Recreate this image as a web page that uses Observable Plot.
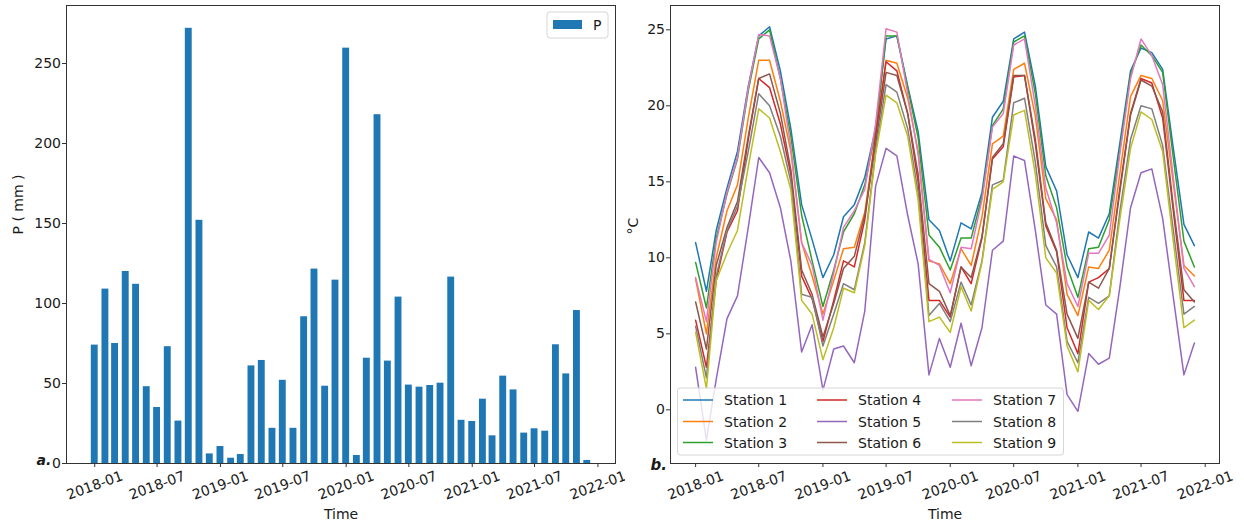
<!DOCTYPE html>
<html><head><meta charset="utf-8">
<script src="https://cdn.jsdelivr.net/npm/d3@7"></script>
<script src="https://cdn.jsdelivr.net/npm/@observablehq/plot@0.6"></script>
<style>
body{margin:0;background:#fff;}
#wrap{position:relative;width:1244px;height:527px;font-family:"DejaVu Sans",sans-serif;background:#fff;}
#left{position:absolute;left:0;top:0;}
#right{position:absolute;left:625px;top:0;}
</style></head><body><div id="wrap"><div id="left"></div><div id="right"></div></div>
<script>
const months = ["2018-01","2018-02","2018-03","2018-04","2018-05","2018-06","2018-07","2018-08","2018-09","2018-10","2018-11","2018-12",
"2019-01","2019-02","2019-03","2019-04","2019-05","2019-06","2019-07","2019-08","2019-09","2019-10","2019-11","2019-12",
"2020-01","2020-02","2020-03","2020-04","2020-05","2020-06","2020-07","2020-08","2020-09","2020-10","2020-11","2020-12",
"2021-01","2021-02","2021-03","2021-04","2021-05","2021-06","2021-07","2021-08","2021-09","2021-10","2021-11","2021-12"];
const precip = [74,109,75,120,112,48,35,73,26.5,272,152,6,
10.6,3.3,5.6,61,64.4,22,52,22,91.7,121.5,48.3,114.6,
259.6,5,65.8,218,64,104,49,47.7,48.75,50.2,116.5,27,
26.25,40.2,17.3,54.6,46,19,21.7,20.2,74.2,56,95.6,1.9];
const station1 = [11.0,7.8,11.8,14.6,17.0,21.3,24.6,25.2,22.3,18.5,13.5,11.2,
8.7,10.2,12.7,13.5,15.3,18.5,24.4,24.6,21.3,18.3,12.5,11.8,
9.8,12.3,11.9,14.3,19.25,20.3,24.4,24.85,21.3,16.0,14.4,10.2,
8.7,11.7,11.3,12.9,17.5,22.3,23.8,23.5,22.4,17.3,12.2,10.8];
const station2 = [8.6,5.0,10.0,13.1,14.8,19.2,23.0,23.0,20.3,17.0,11.0,8.8,
6.3,8.5,10.6,10.7,13.0,18.0,23.0,22.8,20.5,17.0,9.8,9.6,
8.3,10.6,9.5,12.7,17.5,18.0,22.4,22.8,19.3,13.9,12.5,7.6,
6.2,9.4,9.3,10.5,15.5,20.6,22.0,21.8,20.35,15.0,9.5,8.8];
const station3 = [9.7,6.7,11.3,14.2,16.5,21.0,24.4,25.0,21.8,18.0,12.8,9.8,
6.8,9.2,11.7,12.9,14.8,18.3,24.6,24.6,21.2,17.9,11.5,10.7,
9.2,11.3,11.3,14.0,18.7,19.8,24.2,24.6,20.8,15.4,13.3,9.4,
7.4,10.6,10.7,12.5,17.0,22.1,24.0,23.3,22.2,16.7,11.1,9.4];
const station4 = [5.9,2.8,8.5,11.7,13.1,17.8,21.8,21.2,18.8,15.5,8.8,7.3,
4.5,7.2,9.8,9.4,12.5,18.0,22.9,22.3,19.5,15.0,7.2,7.2,
6.1,9.4,8.3,11.3,16.5,17.3,21.9,22.0,17.5,12.1,10.4,5.4,
3.7,8.4,8.7,9.3,14.5,19.5,21.8,21.5,19.2,13.2,7.2,7.2];
const station5 = [2.8,-2.0,2.0,6.0,7.5,12.0,16.6,15.6,13.3,9.8,3.8,5.6,
1.3,4.0,4.2,3.1,6.5,14.7,17.2,16.7,12.8,9.6,2.3,4.7,
2.8,5.7,2.9,5.4,10.5,11.1,16.7,16.4,11.8,6.9,6.3,1.0,
-0.1,3.7,3.0,3.4,8.0,13.3,15.6,15.85,12.6,7.5,2.3,4.4];
const station6 = [7.1,4.0,9.5,12.0,13.7,18.0,21.8,22.1,19.5,15.8,9.2,7.6,
4.8,7.0,9.3,10.1,12.8,17.5,22.2,22.0,19.5,15.5,8.3,7.8,
6.2,9.4,8.7,11.4,16.6,17.5,22.0,22.0,17.8,12.3,10.5,6.3,
4.7,8.4,8.0,9.3,14.3,19.4,21.7,21.3,19.6,13.5,7.9,7.1];
const station7 = [8.7,5.8,11.0,14.3,16.6,21.2,24.7,24.6,21.8,17.3,11.0,9.5,
5.9,9.0,12.0,13.1,14.5,18.8,25.07,24.85,20.8,16.8,9.9,9.5,
7.7,10.7,10.6,13.8,18.6,19.5,24.0,24.4,20.0,14.6,12.3,8.3,
6.8,10.3,10.3,11.5,16.8,21.8,24.4,23.3,21.4,15.4,9.3,8.1];
const station8 = [5.5,2.1,8.8,11.8,13.4,17.0,20.8,20.0,18.0,15.0,7.6,7.4,
4.2,6.3,8.3,7.9,11.0,17.0,21.4,20.9,18.5,14.3,6.2,7.0,
5.8,8.4,6.9,9.8,14.8,15.1,20.2,20.5,16.3,10.8,9.4,4.5,
3.1,7.4,7.0,7.5,13.0,17.8,20.0,19.8,17.4,11.9,6.3,6.8];
const station9 = [5.1,1.4,8.5,10.3,11.8,16.0,19.8,19.2,17.0,14.5,7.2,6.3,
3.3,5.4,8.0,7.7,10.8,16.8,20.7,20.2,18.0,13.8,5.8,6.1,
5.1,8.1,6.5,9.7,14.5,15.0,19.4,19.7,15.5,10.0,9.0,4.2,
2.5,7.2,6.6,7.5,12.5,17.2,19.6,19.1,17.0,11.2,5.4,5.9];
const stationNames = ["Station 1","Station 2","Station 3","Station 4","Station 5","Station 6","Station 7","Station 8","Station 9"];
const stationColors = ["#1f77b4","#ff7f0e","#2ca02c","#d62728","#9467bd","#8c564b","#e377c2","#7f7f7f","#bcbd22"];
const tickLabels = ["2018-01","2018-07","2019-01","2019-07","2020-01","2020-07","2021-01","2021-07","2022-01"];
const pTicks = [0,50,100,150,200,250];
const tTicks = [0,5,10,15,20,25];

const parse = s => new Date(s + "-01T00:00:00Z");
const DAY = 864e5;
const tickDates = tickLabels.map(parse);
const fmt = d3.utcFormat("%Y-%m");
const series = [station1,station2,station3,station4,station5,station6,station7,station8,station9];
const barData = months.map((m,i)=>({date: parse(m), p: precip[i]}));
const lineData = [];
series.forEach((arr,k)=>arr.forEach((v,i)=>lineData.push({station: stationNames[k], date: parse(months[i]), t: v})));

const baseStyle = {fontFamily: "DejaVu Sans, sans-serif", fontSize: "14px", color: "#1a1a1a", background: "white", overflow: "visible"};
const xAxisOpts = {ticks: tickDates, tickFormat: fmt, tickSize: 4, tickRotate: -20, tickPadding: 18, textAnchor: "middle", label: null, stroke: "#333"};

const left = Plot.plot({
  width: 625, height: 527, marginLeft: 66, marginRight: 10, marginTop: 5, marginBottom: 64,
  style: baseStyle,
  x: {type: "utc", domain: [new Date(Date.UTC(2017,9,11)), new Date(Date.UTC(2022,1,21))]},
  y: {domain: [0, 286.25]},
  marks: [
    Plot.rectY(barData, {x1: d => new Date(+d.date - 10*DAY), x2: d => new Date(+d.date + 10*DAY), y1: 0, y2: "p", fill: "#1f77b4"}),
    Plot.frame({stroke: "#333", strokeWidth: 1}),
    Plot.axisY({ticks: pTicks, tickSize: 4, tickPadding: 1.5, label: null, stroke: "#333"}),
    Plot.axisX(xAxisOpts),
    Plot.text(["P ( mm )"], {frameAnchor: "left", dx: -48, rotate: -90, fontSize: 14}),
    Plot.text(["Time"], {frameAnchor: "bottom", dy: 55, fontSize: 14}),
    Plot.text(["a."], {frameAnchor: "bottom-left", dx: -30, dy: 1, fontSize: 14, fontWeight: "bold", fontStyle: "italic"})
  ]
});
document.getElementById("left").appendChild(left);

const right = Plot.plot({
  width: 619, height: 527, marginLeft: 45, marginRight: 25, marginTop: 5, marginBottom: 64,
  style: baseStyle,
  x: {type: "utc", domain: [new Date(Date.UTC(2017,9,21)), new Date(Date.UTC(2022,1,11))]},
  y: {domain: [-3.53, 26.6]},
  color: {domain: stationNames, range: stationColors},
  marks: [
    Plot.line(lineData, {x: "date", y: "t", z: "station", stroke: "station", strokeWidth: 1.5}),
    Plot.frame({stroke: "#333", strokeWidth: 1}),
    Plot.axisY({ticks: tTicks, tickSize: 4, tickPadding: 1.5, label: null, stroke: "#333"}),
    Plot.axisX(xAxisOpts),
    Plot.text(["°C"], {frameAnchor: "left", dx: -37, rotate: -90, fontSize: 14}),
    Plot.text(["Time"], {frameAnchor: "bottom", dy: 55, fontSize: 14}),
    Plot.text(["b."], {frameAnchor: "bottom-left", dx: -20, dy: 6, fontSize: 15, fontWeight: "bold", fontStyle: "italic"})
  ]
});
document.getElementById("right").appendChild(right);

// left legend
{
  const svg = d3.select(left);
  const g = svg.append("g").attr("font-family", "DejaVu Sans, sans-serif").attr("font-size", 14).attr("text-anchor", "start");
  g.append("rect").attr("x", 547).attr("y", 12).attr("width", 61).attr("height", 26).attr("rx", 3)
    .attr("fill", "white").attr("fill-opacity", 0.8).attr("stroke", "#d6d6d6");
  g.append("rect").attr("x", 553).attr("y", 20).attr("width", 29).attr("height", 9).attr("fill", "#1f77b4");
  g.append("text").attr("x", 593).attr("y", 25).attr("dominant-baseline", "central").attr("fill", "#1a1a1a").text("P");
}
// right legend
{
  const svg = d3.select(right);
  const g = svg.append("g").attr("font-family", "DejaVu Sans, sans-serif").attr("font-size", 14).attr("text-anchor", "start");
  g.append("rect").attr("x", 52.5).attr("y", 388).attr("width", 386).attr("height", 67).attr("rx", 3)
    .attr("fill", "white").attr("fill-opacity", 0.8).attr("stroke", "#d6d6d6");
  const colX = [58, 192, 327];
  const rowY = [400, 421.5, 442.5];
  stationNames.forEach((name, i) => {
    const c = Math.floor(i / 3), r = i % 3;
    g.append("line").attr("x1", colX[c]).attr("x2", colX[c] + 30).attr("y1", rowY[r]).attr("y2", rowY[r])
      .attr("stroke", stationColors[i]).attr("stroke-width", 1.5);
    g.append("text").attr("x", colX[c] + 41).attr("y", rowY[r]).attr("dominant-baseline", "central")
      .attr("fill", "#1a1a1a").text(name);
  });
}
</script>
</body></html>
